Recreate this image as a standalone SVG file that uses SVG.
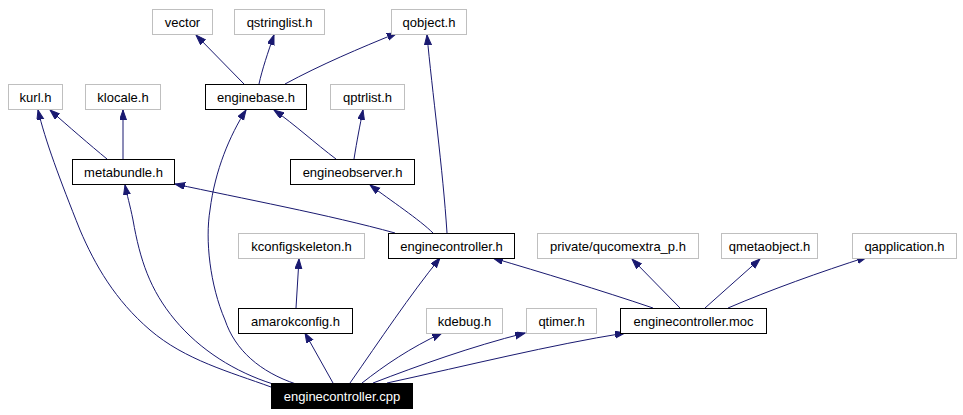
<svg xmlns="http://www.w3.org/2000/svg" width="963" height="415" viewBox="0 0 963 415">
<style>
.n rect{fill:#fff;stroke:#000;stroke-width:1}
.u rect{fill:#fff;stroke:#bfbfbf;stroke-width:1}
.c rect{fill:#000;stroke:#000;stroke-width:1}
text{font-family:"Liberation Sans",Arial,sans-serif;font-size:13px;text-anchor:middle;fill:#000}
.c text{fill:#fff}
#edges path{fill:none;stroke:#191970;stroke-width:1;marker-end:url(#ah)}
</style>
<defs>
<marker id="ah" markerUnits="userSpaceOnUse" markerWidth="11" markerHeight="8" refX="10" refY="3.5" orient="auto">
<path d="M0,0 L10,3.5 L0,7 z" fill="#191970" stroke="#191970" stroke-width="1"/>
</marker>
</defs>
<rect width="963" height="415" fill="#fff"/>
<g id="edges">
<path d="M244,84 L196,35"/>
<path d="M259,84 C262,70 268,52 274,35"/>
<path d="M285,84 C320,65 360,48 397,33"/>
<path d="M447,233 C443,170 432,90 427,35"/>
<path d="M107,159 C90,145 68,126 50,110"/>
<path d="M123,159 L123,110"/>
<path d="M336,159 C316,144 294,124 274,110"/>
<path d="M354,159 C357,140 360,125 363,110"/>
<path d="M395,233 C330,215 240,198 175,184"/>
<path d="M433,233 C420,220 390,200 370,185"/>
<path d="M296,308 L299,259"/>
<path d="M653,308 C600,290 540,272 493,258"/>
<path d="M680,308 L632,259"/>
<path d="M705,308 L760,259"/>
<path d="M728,308 C770,290 820,272 867,257"/>
<path d="M271,387 C230,372 185,360 150,330 C115,300 95,265 80,230 C60,180 45,140 38,110"/>
<path d="M273,384 C235,372 200,350 175,320 C150,290 140,260 133,220 C130,205 127,195 125,185"/>
<path d="M296,384 C260,372 235,350 225,320 C210,285 205,240 210,210 C215,170 230,135 246,110"/>
<path d="M333,383 L305,333"/>
<path d="M350,383 C380,340 410,295 440,258"/>
<path d="M362,383 C385,365 410,348 442,333"/>
<path d="M373,383 C420,365 470,347 525,333"/>
<path d="M387,383 C470,365 550,345 625,333"/>
</g>
<g id="vector" class="u"><rect x="152.5" y="9.5" width="60" height="25"/><text x="182.5" y="26.5">vector</text></g>
<g id="qstringlist" class="u"><rect x="234.5" y="9.5" width="90" height="25"/><text x="279.5" y="26.5">qstringlist.h</text></g>
<g id="qobject" class="u"><rect x="391.5" y="9.5" width="75" height="25"/><text x="429" y="26.5">qobject.h</text></g>
<g id="kurl" class="u"><rect x="8.5" y="84.5" width="54" height="25"/><text x="35.5" y="101.5">kurl.h</text></g>
<g id="klocale" class="u"><rect x="85.5" y="84.5" width="75" height="25"/><text x="123" y="101.5">klocale.h</text></g>
<g id="enginebase" class="n"><rect x="205.5" y="84.5" width="101" height="25"/><text x="256" y="101.5">enginebase.h</text></g>
<g id="qptrlist" class="u"><rect x="330.5" y="84.5" width="74" height="25"/><text x="367.5" y="101.5">qptrlist.h</text></g>
<g id="metabundle" class="n"><rect x="72.5" y="159.5" width="102" height="25"/><text x="123.5" y="176.5">metabundle.h</text></g>
<g id="engineobserver" class="n"><rect x="290.5" y="159.5" width="124" height="25"/><text x="352.5" y="176.5">engineobserver.h</text></g>
<g id="kconfigskeleton" class="u"><rect x="238.5" y="233.5" width="126" height="25"/><text x="301.5" y="250.5">kconfigskeleton.h</text></g>
<g id="enginecontroller_h" class="n"><rect x="388.5" y="233.5" width="126" height="25"/><text x="451.5" y="250.5">enginecontroller.h</text></g>
<g id="qucomextra" class="u"><rect x="537.5" y="233.5" width="161" height="25"/><text x="618" y="250.5">private/qucomextra_p.h</text></g>
<g id="qmetaobject" class="u"><rect x="721.5" y="233.5" width="96" height="25"/><text x="769.5" y="250.5">qmetaobject.h</text></g>
<g id="qapplication" class="u"><rect x="852.5" y="233.5" width="104" height="25"/><text x="904.5" y="250.5">qapplication.h</text></g>
<g id="amarokconfig" class="n"><rect x="238.5" y="308.5" width="114" height="25"/><text x="295.5" y="325.5">amarokconfig.h</text></g>
<g id="kdebug" class="u"><rect x="426.5" y="308.5" width="76" height="25"/><text x="464.5" y="325.5">kdebug.h</text></g>
<g id="qtimer" class="u"><rect x="526.5" y="308.5" width="70" height="25"/><text x="561.5" y="325.5">qtimer.h</text></g>
<g id="enginecontroller_moc" class="n"><rect x="620.5" y="308.5" width="146" height="25"/><text x="693.5" y="325.5">enginecontroller.moc</text></g>
<g id="enginecontroller_cpp" class="c"><rect x="271.5" y="383.5" width="141" height="25"/><text x="342" y="400.5">enginecontroller.cpp</text></g>
</svg>
